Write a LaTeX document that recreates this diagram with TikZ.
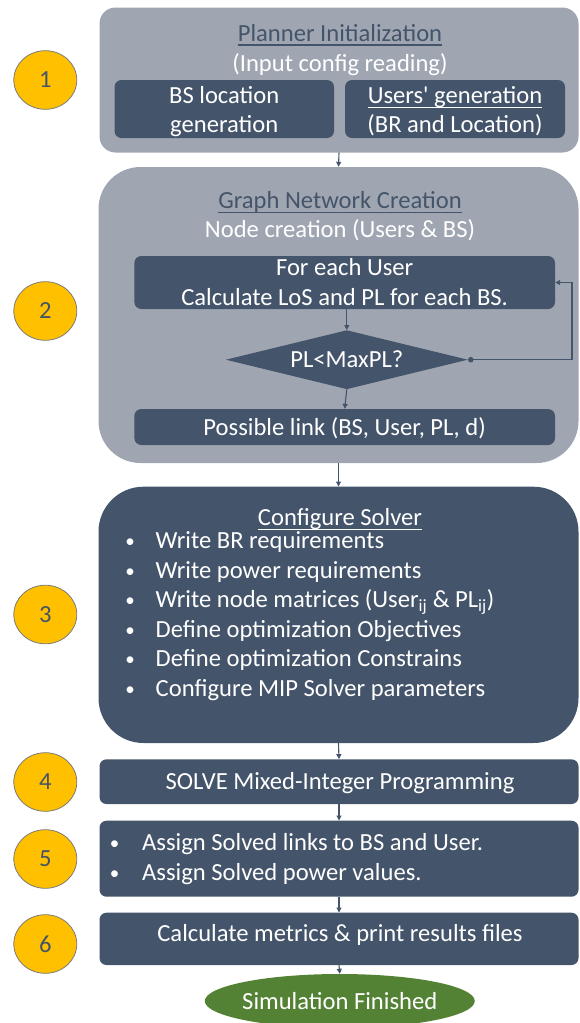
\documentclass[tikz,border=0pt]{standalone}
\usepackage{fontspec}
\setmainfont{Carlito}
\usetikzlibrary{shapes.geometric,arrows.meta}

\definecolor{slate}{HTML}{44546A}
\definecolor{haze}{HTML}{A0A6B1}
\definecolor{amber}{HTML}{FFC000}
\definecolor{leaf}{HTML}{548235}
\definecolor{rim}{HTML}{7A7A7A}

% underline drawn close below the baseline, in the current text colour
\newcommand\ulin[1]{\setbox0\hbox{#1}\rlap{\rule[-4.6pt]{\wd0}{1.3pt}}\box0}
% small list bullet
\newcommand\listdot{{\fontsize{19}{19}\selectfont\textbullet}}

\begin{document}
\begin{tikzpicture}[x=1pt,y=-1pt,
  font=\fontsize{24.6}{29.5}\selectfont,
  panel/.style={fill=haze, draw=none, inner sep=0pt},
  darkpanel/.style={fill=slate, draw=none, inner sep=0pt},
  chip/.style={fill=slate, draw=none, inner sep=0pt, rounded corners=7pt},
  badge/.style={ellipse, fill=amber, draw=rim, line width=0.8pt, text=slate,
                minimum width=63pt, minimum height=58.6pt, inner sep=0pt},
  wtxt/.style={text=white, inner sep=0pt, anchor=base},
  dtxt/.style={text=slate, inner sep=0pt, anchor=base},
  wleft/.style={text=white, inner sep=0pt, anchor=base west},
  arr/.style={draw=slate, line width=1.1pt, -{Triangle[length=5pt,width=5pt]}},
  looparr/.style={draw=slate, line width=1.1pt,
                  {Circle[length=5.5pt]}-{Triangle[length=5pt,width=5pt]}}]

\useasboundingbox (0,0) rectangle (579,1023);

% step badges
\node[badge] (n1) at (45.3,80) {1};
\node[badge] (n2) at (45.3,311) {2};
\node[badge] (n3) at (45.3,614.5) {3};
\node[badge] (n4) at (45.3,782) {4};
\node[badge] (n5) at (45.3,859) {5};
\node[badge] (n6) at (45.3,944) {6};

% 1: planner initialization
\node[panel, rounded corners=16pt, minimum width=479pt, minimum height=145pt] (b1) at (339,80) {};
\node[dtxt] (t1) at (340,41) {\ulin{Planner Initialization}};
\node[wtxt] (t1b) at (340,71.5) {(Input config reading)};
\node[chip, minimum width=219.5pt, minimum height=58pt] (b1a) at (224.25,109) {};
\node[wtxt] (t1c) at (224.25,103.3) {BS location};
\node[wtxt] (t1d) at (224.25,132) {generation};
\node[chip, minimum width=220pt, minimum height=58pt] (b1b) at (455,109) {};
\node[wtxt] (t1e) at (455,103.3) {\ulin{Users\textquotesingle{} generation}};
\node[wtxt] (t1f) at (455,132) {(BR and Location)};

% 2: graph network creation
\node[panel, rounded corners=42pt, minimum width=480pt, minimum height=296pt] (b2) at (338.5,315) {};
\node[dtxt] (t2) at (340,208.5) {\ulin{Graph Network Creation}};
\node[wtxt] (t2b) at (340,237.5) {Node creation (Users \& BS)};
\node[chip, minimum width=420.7pt, minimum height=53pt] (b2a) at (344.65,282.5) {};
\node[wtxt] (t2c) at (344.65,275.7) {For each User};
\node[wtxt] (t2d) at (344.65,305) {Calculate LoS and PL for each BS.};
\node[diamond, aspect=4.1, fill=slate, draw=none, inner sep=0pt,
      minimum width=242pt, minimum height=59pt] (d) at (346.8,359.7) {};
\node[wtxt] (t2e) at (346.8,367.3) {PL<MaxPL?};
\node[chip, minimum width=420.7pt, minimum height=36pt] (b2b) at (344.65,427) {};
\node[wtxt] (t2f) at (344.65,435) {Possible link (BS, User, PL, d)};

% 3: solver configuration
\node[darkpanel, rounded corners=45pt, minimum width=480pt, minimum height=256.3pt] (b3) at (338.5,614.85) {};
\node[wtxt] (t3) at (340,525.8) {\ulin{Configure Solver}};
\foreach \k/\line in {0/{Write BR requirements},
                      1/{Write power requirements},
                      2/{Write node matrices (User\textsubscript{ij} \& PL\textsubscript{ij})},
                      3/{Define optimization Objectives},
                      4/{Define optimization Constrains},
                      5/{Configure MIP Solver parameters}}{
  \node[wtxt] (s\k b) at (130,547.8+29.5*\k) {\listdot};
  \node[wleft] (s\k) at (155.5,548.8+29.5*\k) {\line};
}

% 4: solve
\node[chip, minimum width=479pt, minimum height=44.7pt] (b4) at (339,781.65) {};
\node[wtxt] (t4) at (340,789) {SOLVE Mixed-Integer Programming};

% 5: assignment
\node[chip, minimum width=479pt, minimum height=76pt] (b5) at (339,858.7) {};
\node[wtxt] (a1b) at (114.5,849.7) {\listdot};
\node[wleft] (a1) at (142,850.7) {Assign Solved links to BS and User.};
\node[wtxt] (a2b) at (114.5,879) {\listdot};
\node[wleft] (a2) at (142,880) {Assign Solved power values.};

% 6: metrics
\node[chip, minimum width=479pt, minimum height=52.3pt] (b6) at (339,938.85) {};
\node[wtxt] (t6) at (340,941.7) {Calculate metrics \& print results files};

% terminator
\node[ellipse, fill=leaf, draw=none, inner sep=0pt,
      minimum width=270pt, minimum height=54pt] (fin) at (339.8,1001) {};
\node[wtxt] (tf) at (339.8,1009) {Simulation Finished};

% connectors
\draw[arr] (b1.south) -- (b2.north);
\draw[arr] (d.north |- b2a.south) -- (d.north);
\draw[arr] (d.south) -- (b2b.north);
\draw[looparr] (d.east) -- ++(104,0) |- (b2a.east);
\draw[arr] (b2.south) -- (b3.north);
\draw[arr] (b3.south) -- (b4.north);
\draw[arr] (b4.south) -- (b5.north);
\draw[arr] (b5.south) -- (b6.north);
\draw[arr] (b6.south) -- (fin.north);

\end{tikzpicture}
\end{document}
